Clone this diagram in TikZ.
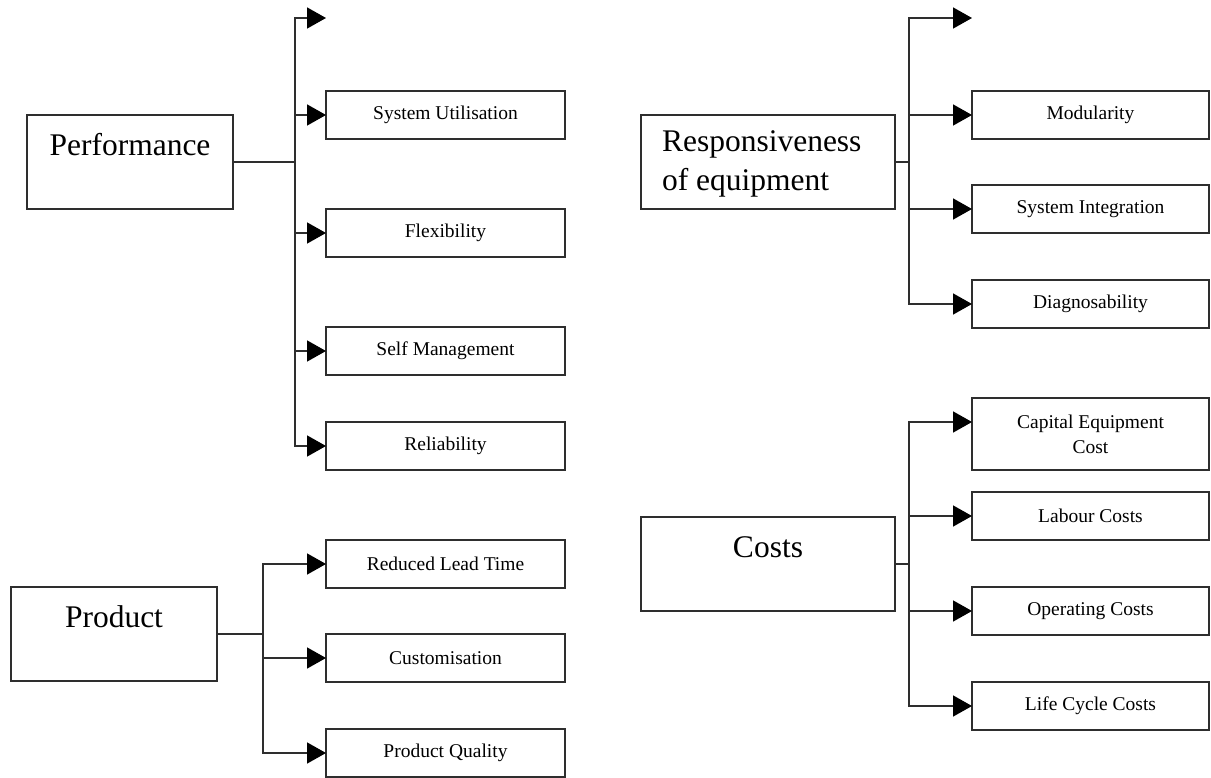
\documentclass[tikz,border=0pt]{standalone}
\usepackage{fontspec}
\setmainfont{Liberation Serif}
\usetikzlibrary{arrows.meta}
\definecolor{ink}{HTML}{2E2E2E}
\tikzset{
  x=1pt, y=-1pt,
  every node/.style={inner sep=0pt, outer sep=0pt},
  parentbox/.style={draw=ink, line width=1.6pt, rectangle},
  childbox/.style={draw=ink, line width=1.6pt, rectangle,
    minimum width=239pt, minimum height=48pt, align=center,
    font=\fontsize{19.5}{25}\selectfont},
  headtext/.style={font=\fontsize{31.5}{39}\selectfont, text=black},
  arr/.style={draw=ink, line width=1.6pt,
    -{Triangle[length=19pt,width=21pt,color=black]}},
  link/.style={draw=ink, line width=1.6pt},
}
\begin{document}
\begin{tikzpicture}
\useasboundingbox[fill=white] (0,0) rectangle (1211,778);

% ---- Performance ----
\node[parentbox, minimum width=206pt, minimum height=94pt] (perf) at (130,162) {};
\node[headtext] (perft) at (130,145) {Performance};
\coordinate (perftop) at (326,18);
\node[childbox] (su)  at (445.5,115) {System Utilisation};
\node[childbox] (flx) at (445.5,233) {Flexibility};
\node[childbox] (sm)  at (445.5,351) {Self Management};
\node[childbox] (rel) at (445.5,446) {Reliability};
\draw[link] (perf.east) -- ++(62,0);
\draw[arr] (295,162) |- (perftop);
\draw[arr] (295,162) |- (su.west);
\draw[arr] (295,162) |- (flx.west);
\draw[arr] (295,162) |- (sm.west);
\draw[arr] (295,162) |- (rel.west);

% ---- Product ----
\node[parentbox, minimum width=206pt, minimum height=94pt] (prod) at (114,634) {};
\node[headtext] (prodt) at (114,617) {Product};
\node[childbox] (rlt) at (445.5,564) {Reduced Lead Time};
\node[childbox] (cus) at (445.5,658) {Customisation};
\node[childbox] (pq)  at (445.5,753) {Product Quality};
\draw[link] (prod.east) -- ++(46,0);
\draw[arr] (263,634) |- (rlt.west);
\draw[arr] (263,634) |- (cus.west);
\draw[arr] (263,634) |- (pq.west);

% ---- Responsiveness of equipment ----
\node[parentbox, minimum width=254pt, minimum height=94pt] (resp) at (768,162) {};
\node[headtext, anchor=west, align=left] (respt) at (662,164)
  {Responsiveness\\of equipment};
\coordinate (resptop) at (972,18);
\node[childbox, minimum width=237pt] (mod) at (1090.5,115) {Modularity};
\node[childbox, minimum width=237pt] (si)  at (1090.5,209) {System Integration};
\node[childbox, minimum width=237pt] (dia) at (1090.5,304) {Diagnosability};
\draw[link] (resp.east) -- ++(14,0);
\draw[arr] (909,162) |- (resptop);
\draw[arr] (909,162) |- (mod.west);
\draw[arr] (909,162) |- (si.west);
\draw[arr] (909,162) |- (dia.west);

% ---- Costs ----
\node[parentbox, minimum width=254pt, minimum height=94pt] (cost) at (768,564) {};
\node[headtext] (costt) at (768,547) {Costs};
\node[childbox, minimum width=237pt, minimum height=72pt] (cap) at (1090.5,434)
  {Capital Equipment\\Cost};
\node[childbox, minimum width=237pt] (lab) at (1090.5,516) {Labour Costs};
\node[childbox, minimum width=237pt] (opc) at (1090.5,611) {Operating Costs};
\node[childbox, minimum width=237pt] (lcc) at (1090.5,706) {Life Cycle Costs};
\coordinate (capin) at ([yshift=12pt]cap.west);
\draw[link] (cost.east) -- ++(14,0);
\draw[arr] (909,564) |- (capin);
\draw[arr] (909,564) |- (lab.west);
\draw[arr] (909,564) |- (opc.west);
\draw[arr] (909,564) |- (lcc.west);
\end{tikzpicture}
\end{document}
